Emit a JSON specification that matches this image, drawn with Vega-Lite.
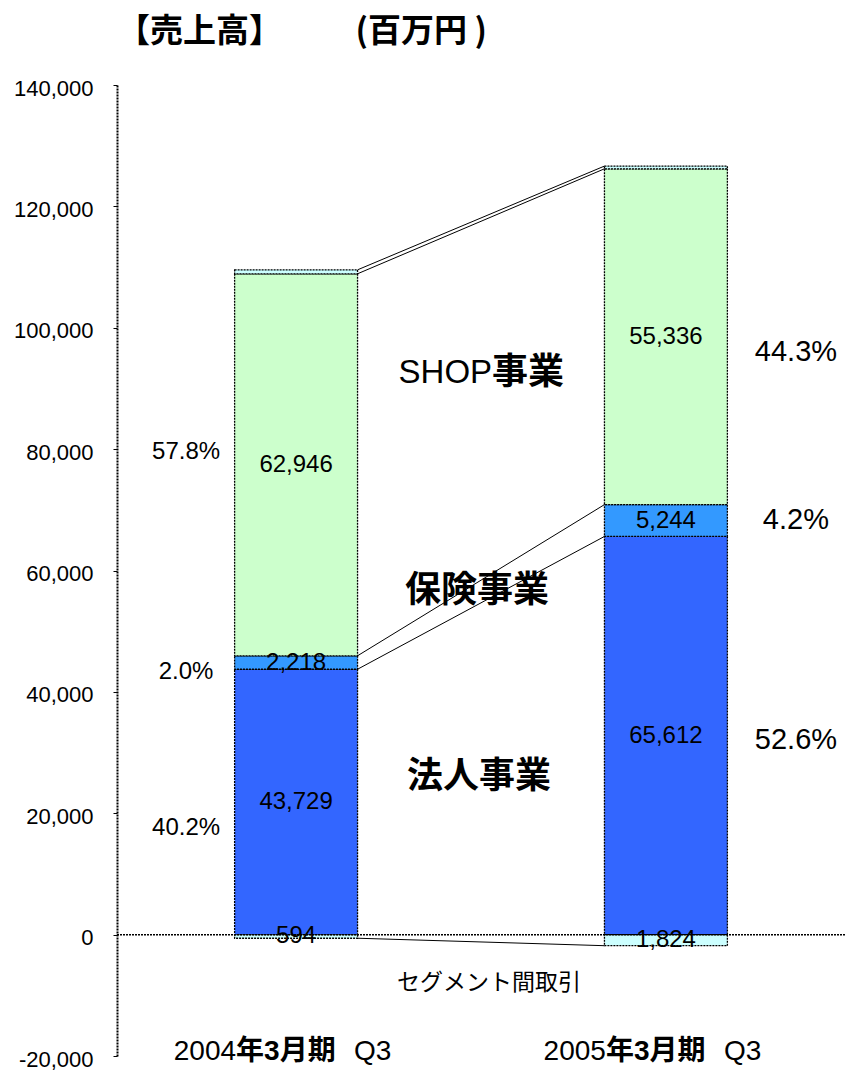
{
  "$schema": "https://vega.github.io/schema/vega-lite/v6.json",
  "width": 728,
  "height": 971,
  "autosize": {"type": "none"},
  "padding": {"left": 117, "top": 85, "right": 0, "bottom": 15},
  "background": "white",
  "config": {"view": {"stroke": null}, "font": "Liberation Sans, Noto Sans CJK JP", "text": {"color": "black", "font": "Liberation Sans, Noto Sans CJK JP"}},
  "title": {"text": "【売上高】　　\u2002 (百万円 )", "anchor": "start", "frame": "group", "fontSize": 33, "fontWeight": "bold", "font": "Noto Sans CJK JP", "offset": 28, "color": "black"},
  "datasets": {
    "segments": [
      {"period": "2004", "segment": "法人事業", "value": 43729, "ord": 1, "label": "43,729"},
      {"period": "2004", "segment": "保険事業", "value": 2218, "ord": 2, "label": "2,218"},
      {"period": "2004", "segment": "SHOP事業", "value": 62946, "ord": 3, "label": "62,946"},
      {"period": "2004", "segment": "その他", "value": 650, "ord": 4, "label": ""},
      {"period": "2004", "segment": "セグメント間取引", "value": -594, "ord": 0, "label": "594"},
      {"period": "2005", "segment": "法人事業", "value": 65612, "ord": 1, "label": "65,612"},
      {"period": "2005", "segment": "保険事業", "value": 5244, "ord": 2, "label": "5,244"},
      {"period": "2005", "segment": "SHOP事業", "value": 55336, "ord": 3, "label": "55,336"},
      {"period": "2005", "segment": "その他", "value": 450, "ord": 4, "label": ""},
      {"period": "2005", "segment": "セグメント間取引", "value": -1824, "ord": 0, "label": "1,824"}
    ],
    "links": [
      {"from": "2004", "to": "2005", "y1": 109543, "y2": 126642},
      {"from": "2004", "to": "2005", "y1": 108893, "y2": 126192},
      {"from": "2004", "to": "2005", "y1": 45947, "y2": 70856},
      {"from": "2004", "to": "2005", "y1": 43729, "y2": 65612},
      {"from": "2004", "to": "2005", "y1": -594, "y2": -1824}
    ],
    "shares": [
      {"period": "2004", "share": "57.8%", "at": 79500},
      {"period": "2004", "share": "2.0%", "at": 43200},
      {"period": "2004", "share": "40.2%", "at": 17500},
      {"period": "2005", "share": "44.3%", "at": 96000},
      {"period": "2005", "share": "4.2%", "at": 68300},
      {"period": "2005", "share": "52.6%", "at": 32000}
    ],
    "periods": [
      {"period": "2004", "year": "2004", "rest": "年3月期", "q": "Q3"},
      {"period": "2005", "year": "2005", "rest": "年3月期", "q": "Q3"}
    ],
    "one": [{}]
  },
  "layer": [
    {
      "data": {"name": "segments"},
      "mark": {"type": "bar", "stroke": "black", "strokeWidth": 1.3, "strokeDash": [2, 1]},
      "encoding": {
        "x": {"field": "period", "type": "nominal", "axis": null,
              "scale": {"type": "band", "domain": ["2004", "2005"], "paddingInner": 0.6676, "paddingOuter": 0.318}},
        "y": {"field": "value", "type": "quantitative", "stack": "zero",
              "scale": {"domain": [-20000, 140000], "nice": false, "zero": false},
              "axis": {"title": null, "values": [-20000, 0, 20000, 40000, 60000, 80000, 100000, 120000, 140000],
                       "labelExpr": "replace(format(datum.value, ','), '−', '-')",
                       "grid": false, "domainColor": "black", "domainWidth": 2, "domainDash": [2, 1],
                       "tickColor": "black", "tickSize": 4, "tickWidth": 1,
                       "labelFont": "Liberation Sans", "labelFontSize": 22, "labelColor": "black",
                       "labelPadding": 20, "labelOffset": 3}},
        "color": {"field": "segment", "type": "nominal", "legend": null,
                  "scale": {"domain": ["法人事業", "保険事業", "SHOP事業", "その他", "セグメント間取引"],
                            "range": ["#3366FF", "#3399FF", "#CCFFCC", "#CCFFFF", "#CCFFFF"]}},
        "order": {"field": "ord", "type": "quantitative"}
      }
    },
    {
      "data": {"name": "one"},
      "mark": {"type": "rule", "color": "black", "strokeWidth": 1.5, "strokeDash": [2, 1]},
      "encoding": {"y": {"datum": 0, "type": "quantitative"}}
    },
    {
      "data": {"name": "links"},
      "mark": {"type": "rule", "color": "black", "strokeWidth": 1},
      "encoding": {
        "x": {"field": "from", "type": "nominal", "bandPosition": 1},
        "x2": {"field": "to", "bandPosition": 0},
        "y": {"field": "y1", "type": "quantitative"},
        "y2": {"field": "y2"}
      }
    },
    {
      "data": {"name": "segments"},
      "mark": {"type": "text", "fontSize": 24, "baseline": "middle", "align": "center"},
      "encoding": {
        "x": {"field": "period", "type": "nominal"},
        "y": {"field": "value", "type": "quantitative", "stack": "zero", "bandPosition": 0.5},
        "order": {"field": "ord", "type": "quantitative"},
        "text": {"field": "label"},
        "detail": {"field": "segment"}
      }
    },
    {
      "data": {"name": "shares"},
      "transform": [{"filter": "datum.period == '2004'"}],
      "mark": {"type": "text", "fontSize": 24, "baseline": "middle", "align": "center", "dx": -110},
      "encoding": {
        "x": {"field": "period", "type": "nominal"},
        "y": {"field": "at", "type": "quantitative"},
        "text": {"field": "share"}
      }
    },
    {
      "data": {"name": "shares"},
      "transform": [{"filter": "datum.period == '2005'"}],
      "mark": {"type": "text", "fontSize": 29, "baseline": "middle", "align": "center", "dx": 130},
      "encoding": {
        "x": {"field": "period", "type": "nominal"},
        "y": {"field": "at", "type": "quantitative"},
        "text": {"field": "share"}
      }
    },
    {
      "data": {"name": "one"},
      "mark": {"type": "text", "fontSize": 33, "baseline": "middle", "align": "right", "dx": 196, "text": "SHOP"},
      "encoding": {"x": {"datum": "2004"}, "y": {"datum": 92500, "type": "quantitative"}}
    },
    {
      "data": {"name": "one"},
      "mark": {"type": "text", "fontSize": 36, "fontWeight": "bold", "baseline": "middle", "align": "left", "dx": 196, "text": "事業"},
      "encoding": {"x": {"datum": "2004"}, "y": {"datum": 92500, "type": "quantitative"}}
    },
    {
      "data": {"name": "one"},
      "mark": {"type": "text", "fontSize": 36, "fontWeight": "bold", "baseline": "middle", "align": "center", "dx": 181, "text": "保険事業"},
      "encoding": {"x": {"datum": "2004"}, "y": {"datum": 56700, "type": "quantitative"}}
    },
    {
      "data": {"name": "one"},
      "mark": {"type": "text", "fontSize": 36, "fontWeight": "bold", "baseline": "middle", "align": "center", "dx": 183, "text": "法人事業"},
      "encoding": {"x": {"datum": "2004"}, "y": {"datum": 25900, "type": "quantitative"}}
    },
    {
      "data": {"name": "one"},
      "mark": {"type": "text", "fontSize": 23, "baseline": "middle", "align": "center", "dx": 193, "text": "セグメント間取引"},
      "encoding": {"x": {"datum": "2004"}, "y": {"datum": -8000, "type": "quantitative"}}
    },
    {
      "data": {"name": "periods"},
      "mark": {"type": "text", "fontSize": 28, "baseline": "middle", "align": "right", "dx": -60},
      "encoding": {"x": {"field": "period", "type": "nominal"}, "y": {"datum": -19300, "type": "quantitative"}, "text": {"field": "year"}}
    },
    {
      "data": {"name": "periods"},
      "mark": {"type": "text", "fontSize": 28, "fontWeight": "bold", "baseline": "middle", "align": "left", "dx": -60},
      "encoding": {"x": {"field": "period", "type": "nominal"}, "y": {"datum": -19300, "type": "quantitative"}, "text": {"field": "rest"}}
    },
    {
      "data": {"name": "periods"},
      "mark": {"type": "text", "fontSize": 28, "baseline": "middle", "align": "left", "dx": 58},
      "encoding": {"x": {"field": "period", "type": "nominal"}, "y": {"datum": -19300, "type": "quantitative"}, "text": {"field": "q"}}
    }
  ]
}
